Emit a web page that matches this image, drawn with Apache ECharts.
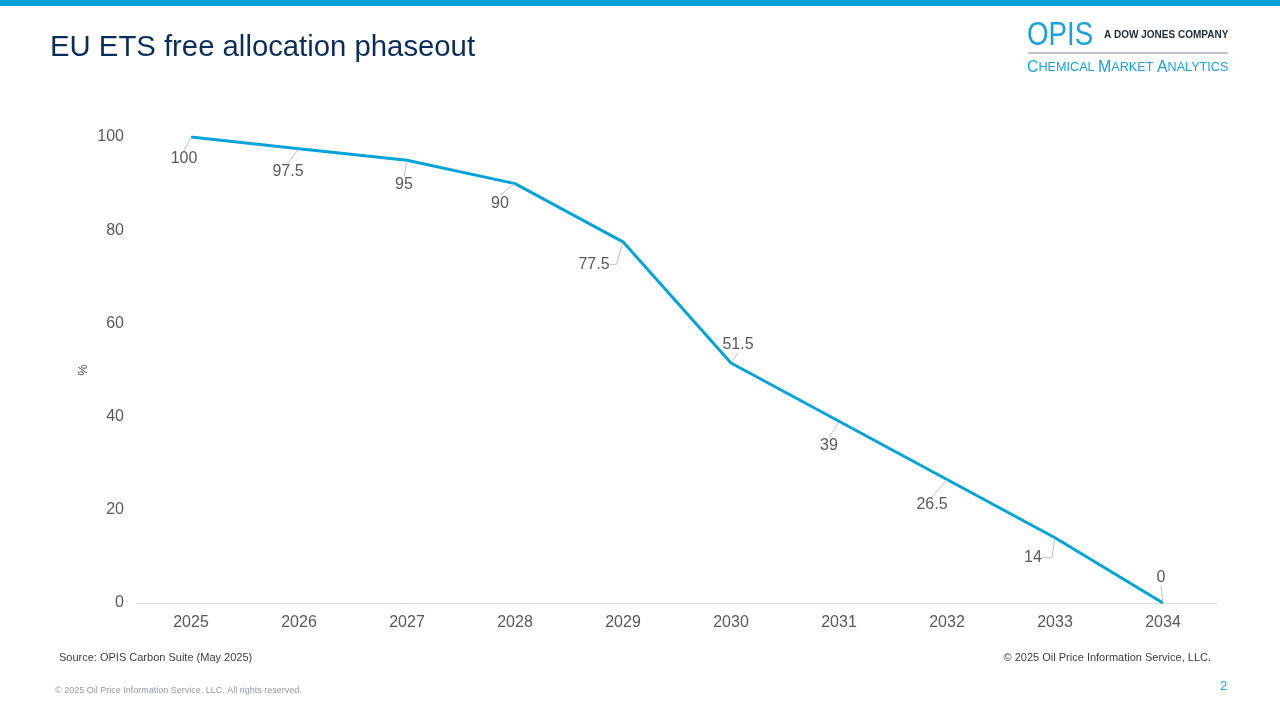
<!DOCTYPE html>
<html><head><meta charset="utf-8">
<script src="https://cdn.jsdelivr.net/npm/echarts@6/dist/echarts.min.js"></script>
<style>html,body{margin:0;padding:0;background:#fff}#c{width:1280px;height:720px}</style>
</head><body><div id="c"></div>
<script>
const categories = ['2025','2026','2027','2028','2029','2030','2031','2032','2033','2034'];
const values = [100, 97.5, 95, 90, 77.5, 51.5, 39, 26.5, 14, 0];
const yTicks = [0, 20, 40, 60, 80, 100];
// label displacement (px) from each point, for the leader-line layout
const labelShift = [[-7,21.5],[-11,22.5],[-3,24.5],[-15,19.5],[-29,22.5],[7,-18.5],[-10,24.5],[-15,25.5],[-22,20],[-2,-25.5]];
// [dataIndex, elbow length] for labels whose leader line has a horizontal elbow
const elbowLabels = [[4, 7], [8, 10]];

const chart = echarts.init(document.getElementById('c'), null, {renderer:'canvas'});
const F = 'Liberation Sans, Arial, sans-serif';
const seriesData = values.map((v, i) => {
  const e = elbowLabels.find(p => p[0] === i);
  return e ? {value: v, labelLine: {length2: e[1]}} : v;
});
chart.setOption({
  animation:false,
  grid:{left:137, right:63, top:137, bottom:117, containLabel:false},
  xAxis:{type:'category', data:categories, boundaryGap:true,
    axisLine:{lineStyle:{color:'#d9d9d9', width:1}}, axisTick:{show:false},
    axisLabel:{color:'#595959', fontSize:16, fontFamily:F, margin:12}},
  yAxis:{type:'value', min:yTicks[0], max:yTicks[yTicks.length-1], interval:20,
    name:'%', nameLocation:'middle', nameGap:47, nameRotate:90, nameMoveOverlap:false,
    nameTextStyle:{color:'#595959', fontSize:13, fontFamily:F},
    splitLine:{show:false}, axisLine:{show:false}, axisTick:{show:false},
    axisLabel:{color:'#595959', fontSize:16, fontFamily:F, margin:13}},
  series:[{type:'line', data:seriesData, symbol:'circle', symbolSize:2, showSymbol:true, smooth:false,
    itemStyle:{color:'rgba(0,0,0,0)'},
    lineStyle:{color:'#00A3D9', width:3},
    label:{show:true, position:'inside', color:'#595959', fontSize:16, fontFamily:F},
    labelLine:{show:true, length2:0, lineStyle:{color:'#bfbfbf', width:1}},
    labelLayout:function(p){const s=labelShift[p.dataIndex]; return {dx:s[0], dy:s[1]};}
  }],
  graphic:[
    {type:'rect', shape:{x:0,y:0,width:1280,height:6}, style:{fill:'#00A3D9'}},
    {type:'text', x:50, y:33, style:{text:'EU ETS free allocation phaseout', font:'29.3px '+F, fill:'#0B2D5B', verticalAlign:'top'}},
    {type:'text', x:1027, y:19, scaleX:0.84, style:{text:'OPIS', font:'33px '+F, fill:'#1BA0DC', verticalAlign:'top'}},
    {type:'text', x:1104, y:29, scaleX:0.91, style:{text:'A DOW JONES COMPANY', font:'bold 11px '+F, fill:'#1E2B36', verticalAlign:'top'}},
    {type:'rect', shape:{x:1028,y:52.5,width:200,height:1}, style:{fill:'#7F8C96'}},
    {type:'text', x:1027, y:59, scaleX:0.935, style:{verticalAlign:'top', fill:'#1BA0DC',
      text:'{a|C}{b|HEMICAL }{a|M}{b|ARKET }{a|A}{b|NALYTICS}',
      rich:{a:{fontSize:17, fontFamily:F, fill:'#1BA0DC'}, b:{fontSize:13.5, fontFamily:F, fill:'#1BA0DC'}}}},
    {type:'text', x:59, y:652, style:{text:'Source: OPIS Carbon Suite (May 2025)', font:'11px '+F, fill:'#404040', verticalAlign:'top'}},
    {type:'text', x:1211, y:652, style:{text:'© 2025 Oil Price Information Service, LLC.', font:'11px '+F, fill:'#404040', align:'right', verticalAlign:'top'}},
    {type:'text', x:55, y:686, style:{text:'© 2025 Oil Price Information Service, LLC. All rights reserved.', font:'9px '+F, fill:'#8C9AA6', verticalAlign:'top'}},
    {type:'text', x:1220, y:680, style:{text:'2', font:'13px '+F, fill:'#1BA0DC', verticalAlign:'top'}}
  ]
});
</script></body></html>
